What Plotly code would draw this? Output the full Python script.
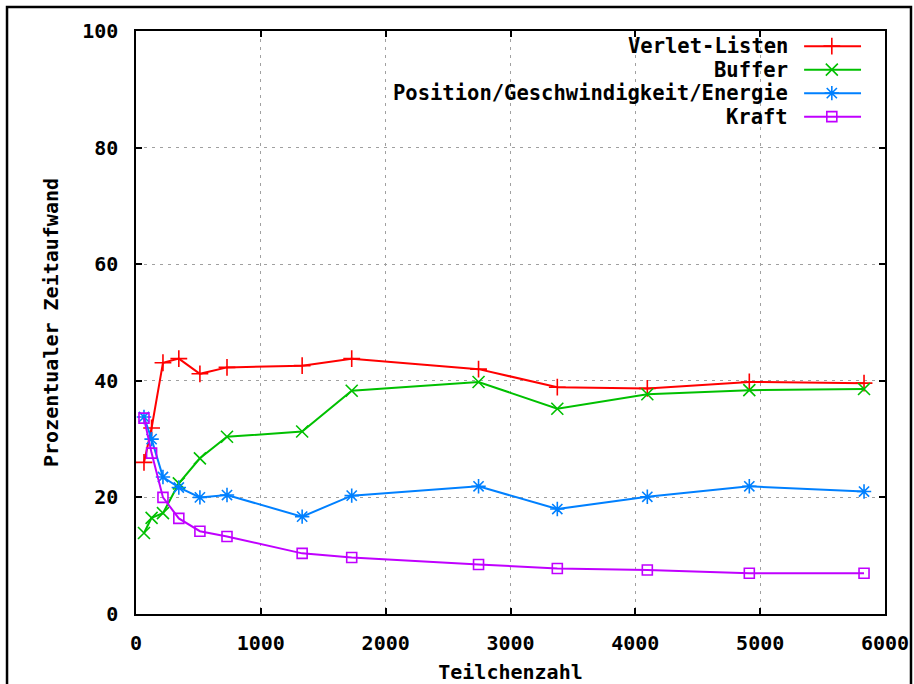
import plotly.graph_objects as go

# Data
teilchen = [64, 125, 216, 343, 512, 729, 1331, 1728, 2744, 3375, 4096, 4913, 5832]
verlet = [26.0, 31.9, 43.1, 43.8, 41.2, 42.3, 42.6, 43.8, 42.0, 38.9, 38.7, 39.8, 39.6]
buffer_ = [13.9, 16.5, 17.3, 22.4, 26.7, 30.4, 31.3, 38.3, 39.8, 35.2, 37.7, 38.4, 38.6]
posgesch = [33.8, 30.0, 23.5, 21.7, 20.0, 20.4, 16.7, 20.3, 21.9, 18.0, 20.1, 21.9, 21.0]
kraft = [33.6, 27.6, 20.0, 16.4, 14.2, 13.3, 10.4, 9.7, 8.5, 7.8, 7.55, 7.0, 7.0]

names = ["Verlet-Listen", "Buffer", "Position/Geschwindigkeit/Energie", "Kraft"]
series = [verlet, buffer_, posgesch, kraft]
colors = ["#ff0000", "#00c000", "#0080ff", "#c000ff"]
symbols = ["cross-thin-open", "x-thin-open", "asterisk-open", "square-open"]
msizes = [12, 12, 12, 10]

x_ticks = [0, 1000, 2000, 3000, 4000, 5000, 6000]
y_ticks = [0, 20, 40, 60, 80, 100]

FONT = dict(family="DejaVu Sans Mono", size=20, color="black", weight="bold")
LEGFONT = dict(family="DejaVu Sans Mono", size=20.5, color="black", weight="bold")

fig = go.Figure()
for name, ys, c, s, ms in zip(names, series, colors, symbols, msizes):
    fig.add_trace(go.Scatter(
        x=teilchen, y=ys, name=name, mode="lines+markers",
        line=dict(color=c, width=2),
        marker=dict(symbol=s, size=ms, color=c, line=dict(color=c, width=1.6)),
        showlegend=False,
    ))

# Custom gnuplot-style legend (text right-aligned, sample on the right)
leg_text_x = 0.873
leg_x0, leg_x1, leg_xm = 0.892, 0.968, 0.929
leg_y0, leg_dy = 0.974, 0.0403
for i, (name, c, s, ms) in enumerate(zip(names, colors, symbols, msizes)):
    yy = leg_y0 - i * leg_dy
    fig.add_annotation(x=leg_text_x, y=yy, xref="paper", yref="paper", text=name,
                       showarrow=False, xanchor="right", yanchor="middle", font=LEGFONT)
    fig.add_shape(type="line", xref="paper", yref="paper", x0=leg_x0, x1=leg_x1, y0=yy, y1=yy,
                  line=dict(color=c, width=2))
    fig.add_trace(go.Scatter(x=[leg_xm], y=[yy], xaxis="x2", yaxis="y2", mode="markers",
                             marker=dict(symbol=s, size=ms, color=c, line=dict(color=c, width=1.6)),
                             showlegend=False, hoverinfo="skip"))

# Outer frame
fig.add_shape(type="rect", xref="paper", yref="paper", x0=-0.1722, x1=1.0347, y0=-0.2, y1=1.0412,
              line=dict(color="black", width=2.5), layer="below")

axis_common = dict(
    showline=True, linecolor="black", linewidth=1.5, mirror="ticks",
    ticks="inside", ticklen=6, tickwidth=1.5, tickcolor="black",
    showgrid=True, gridcolor="#a0a0a0", gridwidth=1, griddash="3px,5px",
    zeroline=False, tickfont=FONT,
)

fig.update_layout(
    width=914, height=684,
    margin=dict(l=136, r=29, t=31, b=70),
    paper_bgcolor="white", plot_bgcolor="white",
    font=FONT,
    xaxis=dict(range=[0, 6000], tickvals=x_ticks, ticktext=[str(v) for v in x_ticks],
               ticklabelstandoff=10,
               title=dict(text="Teilchenzahl", font=FONT, standoff=14), automargin=False,
               **axis_common),
    yaxis=dict(range=[0, 100], tickvals=y_ticks, ticktext=[str(v) for v in y_ticks],
               ticklabelstandoff=12,
               title=dict(text="Prozentualer Zeitaufwand", font=FONT, standoff=18), automargin=False,
               **axis_common),
    xaxis2=dict(overlaying="x", range=[0, 1], visible=False),
    yaxis2=dict(overlaying="y", range=[0, 1], visible=False),
)

fig.write_html("out.html")
